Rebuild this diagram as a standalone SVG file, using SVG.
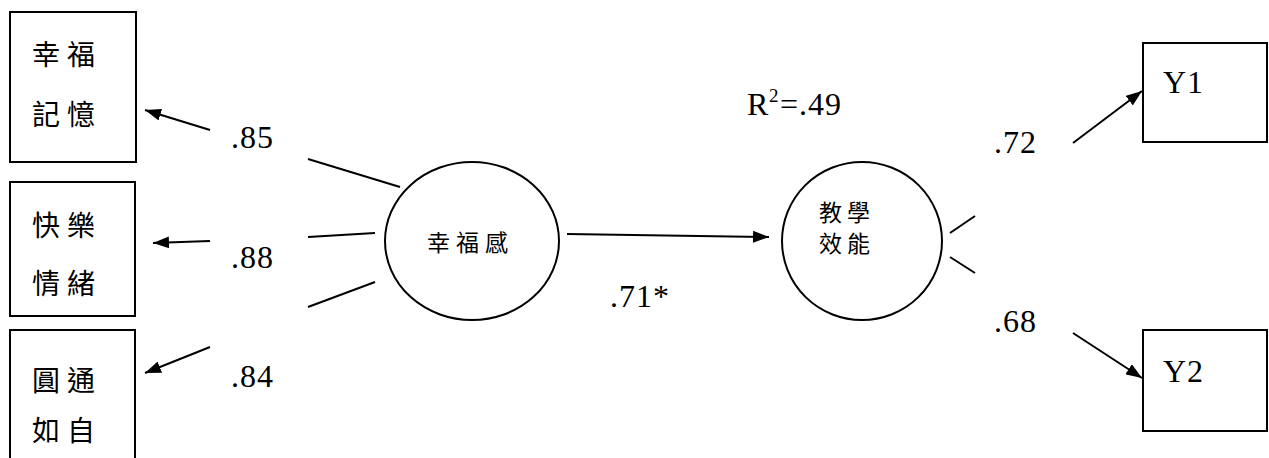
<svg xmlns="http://www.w3.org/2000/svg" width="1269" height="458" viewBox="0 0 1269 458">
<style>
.box{fill:#fff;stroke:#000;stroke-width:2}
.ell{fill:#fff;stroke:#000;stroke-width:2}
.ln{fill:none;stroke:#000;stroke-width:2}
.arr{fill:none;stroke:#000;stroke-width:2;marker-end:url(#ah)}
.cjk{font-family:"Noto Sans CJK TC","Noto Sans CJK SC",sans-serif;fill:#000}
.big{font-size:28px}
.sm{font-size:23px}
.num{font-family:"Liberation Serif","Times New Roman",serif;font-size:32px;letter-spacing:1px;fill:#000}
</style>
<defs>
<marker id="ah" markerUnits="userSpaceOnUse" markerWidth="16" markerHeight="12" refX="16" refY="6" orient="auto">
<path d="M0,0 L16,6 L0,12 z" fill="#000"/>
</marker>
</defs>
<rect width="1269" height="458" fill="#fff"/>
<g id="n1">
<rect class="box" x="10" y="12" width="126" height="150"/>
<text class="cjk big" x="32 67" y="65">幸福</text>
<text class="cjk big" x="32 67" y="125">記憶</text>
</g>
<g id="n2">
<rect class="box" x="10" y="182" width="125" height="134"/>
<text class="cjk big" x="32 67" y="236">快樂</text>
<text class="cjk big" x="32 67" y="294">情緒</text>
</g>
<g id="n3">
<rect class="box" x="10" y="330" width="125" height="140"/>
<text class="cjk big" x="32 67" y="391">圓通</text>
<text class="cjk big" x="32 67" y="441">如自</text>
</g>
<g id="n4">
<ellipse class="ell" cx="472" cy="241" rx="87" ry="79"/>
<text class="cjk sm" x="427 456 485" y="251">幸福感</text>
</g>
<g id="n5">
<ellipse class="ell" cx="862" cy="241" rx="80" ry="79"/>
<text class="cjk sm" x="819 847" y="221">教學</text>
<text class="cjk sm" x="819 847" y="252">效能</text>
</g>
<g id="n6">
<rect class="box" x="1143" y="43" width="124" height="99"/>
<text class="num" x="1163" y="93">Y1</text>
</g>
<g id="n7">
<rect class="box" x="1143" y="330" width="124" height="101"/>
<text class="num" x="1163" y="382">Y2</text>
</g>
<g id="connectors">
<line class="ln" x1="400" y1="187" x2="308" y2="159"/>
<line class="arr" x1="210" y1="130" x2="145" y2="110"/>
<line class="ln" x1="375" y1="233" x2="308" y2="237"/>
<line class="arr" x1="210" y1="241" x2="153" y2="243"/>
<line class="ln" x1="375" y1="282" x2="308" y2="307"/>
<line class="arr" x1="210" y1="347" x2="145" y2="373"/>
<line class="arr" x1="567" y1="234" x2="769" y2="237"/>
<line class="ln" x1="950" y1="233" x2="975" y2="216"/>
<line class="ln" x1="950" y1="257" x2="975" y2="273"/>
<line class="arr" x1="1073" y1="143" x2="1142" y2="91"/>
<line class="arr" x1="1073" y1="333" x2="1142" y2="378"/>
</g>
<g id="labels">
<text class="num" x="231" y="148">.85</text>
<text class="num" x="231" y="268">.88</text>
<text class="num" x="231" y="387">.84</text>
<text class="num" x="610" y="307">.71*</text>
<text class="num" x="994" y="153">.72</text>
<text class="num" x="994" y="332">.68</text>
<text class="num" x="747" y="115">R</text>
<text class="num" x="769" y="102" style="font-size:19px">2</text>
<text class="num" x="780" y="115">=.49</text>
</g>
</svg>
